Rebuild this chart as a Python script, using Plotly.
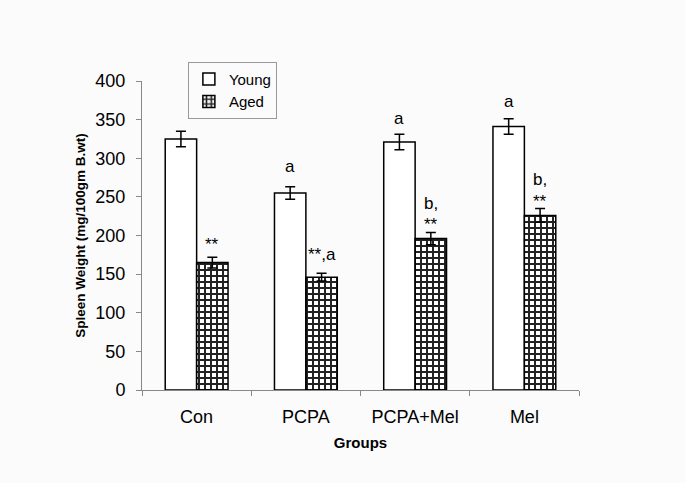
import plotly.graph_objects as go

groups = ["Con", "PCPA", "PCPA+Mel", "Mel"]
young = [325, 255, 321, 341]
young_err = [10, 8, 10, 10]
aged = [165, 146, 196, 226]
aged_err = [7, 5, 8, 9]

# significance labels: (group index, series, text, y position)
marks = [
    (0, "aged", "**", 188),
    (1, "young", "a", 289),
    (1, "aged", "**,a", 175),
    (2, "young", "a", 352),
    (2, "aged", "b,", 242),
    (2, "aged", "**", 214),
    (3, "young", "a", 373),
    (3, "aged", "b,", 272),
    (3, "aged", "**", 244),
]

FONT = "Liberation Sans, Arial, sans-serif"
BG = "#fbfbfb"

fig = go.Figure()
fig.add_trace(go.Bar(
    x=groups, y=young, name="Young",
    marker=dict(color="white", line=dict(color="black", width=1.5)),
    error_y=dict(type="data", array=young_err, color="black", thickness=1.5, width=5),
))
fig.add_trace(go.Bar(
    x=groups, y=aged, name="Aged",
    marker=dict(
        color="white",
        line=dict(color="black", width=1.5),
        pattern=dict(shape="+", fgcolor="#222222", bgcolor="white", fgopacity=1,
                     size=6, solidity=0.55),
    ),
    error_y=dict(type="data", array=aged_err, color="black", thickness=1.5, width=5),
))

for gi, series, text, yv in marks:
    off = -0.145 if series == "young" else 0.145
    fig.add_annotation(
        x=gi + off, y=yv, xref="x", yref="y", text=text, showarrow=False,
        font=dict(family=FONT, size=17, color="black"),
    )

fig.update_layout(
    width=685, height=483,
    margin=dict(l=142, r=106, t=81, b=93),
    paper_bgcolor=BG, plot_bgcolor=BG,
    barmode="group", bargap=0.425, bargroupgap=0,
    font=dict(family=FONT, color="black"),
    legend=dict(
        x=0.105, y=1.062, xanchor="left", yanchor="top",
        bgcolor=BG, bordercolor="#999999", borderwidth=1,
        font=dict(family=FONT, size=15),
        itemwidth=30, tracegroupgap=0,
    ),
)
fig.update_xaxes(
    showline=True, linecolor="#888888", linewidth=1,
    ticks="outside", tickson="boundaries", ticklen=5, tickcolor="#888888",
    tickfont=dict(family=FONT, size=18), ticklabelstandoff=10,
    title=dict(text="<b>Groups</b>", font=dict(family=FONT, size=15), standoff=11),
    showgrid=False, range=[-0.5, 3.5],
)
fig.update_yaxes(
    range=[0, 400], dtick=50,
    showline=True, linecolor="#888888", linewidth=1,
    ticks="outside", ticklen=5, tickcolor="#888888",
    tickfont=dict(family=FONT, size=18), ticklabelstandoff=7,
    title=dict(text="<b>Spleen Weight (mg/100gm B.wt)</b>", font=dict(family=FONT, size=13.5), standoff=6),
    showgrid=False, zeroline=False,
)

fig.write_html(
    "out.html",
    config={"displayModeBar": False},
    post_script="document.body.style.margin='0';",
)
